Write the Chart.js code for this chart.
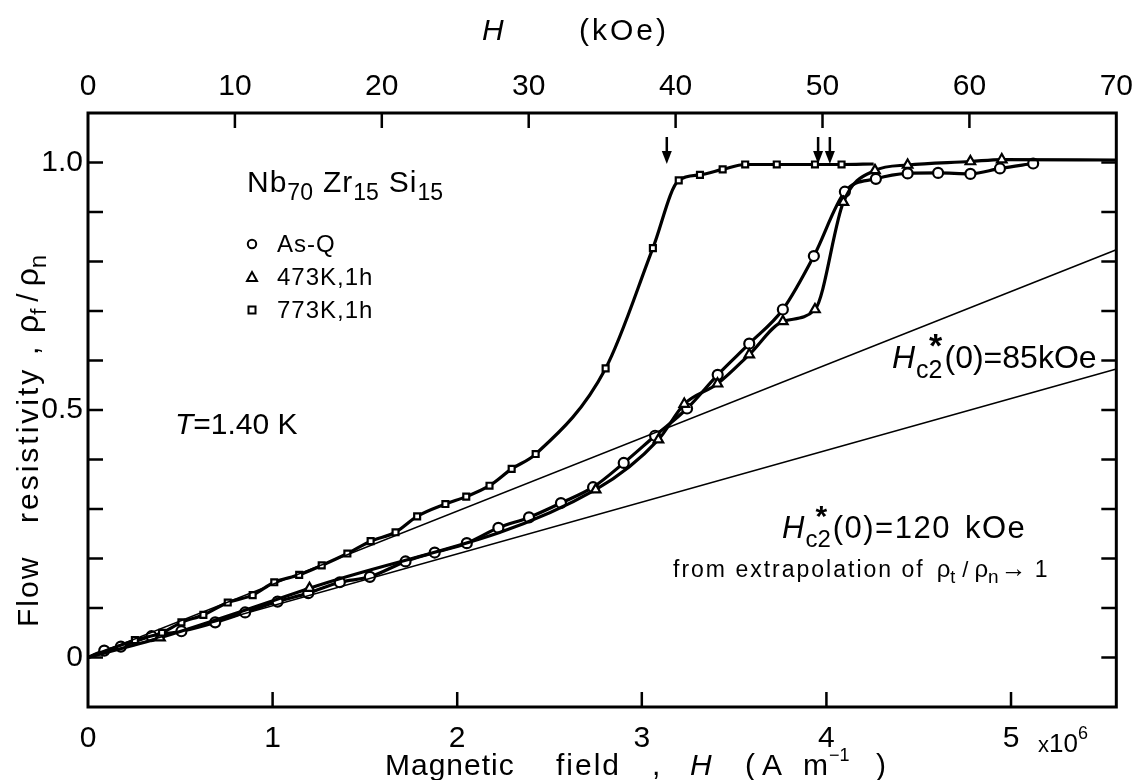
<!DOCTYPE html>
<html>
<head>
<meta charset="utf-8">
<script src="https://cdn.jsdelivr.net/npm/chart.js@4.4.1/dist/chart.umd.min.js"></script>
<style>
  html, body { margin: 0; padding: 0; background: #fff; }
  canvas { display: block; }
</style>
</head>
<body>
<canvas id="chart" width="1141" height="780"></canvas>
<script>
// Field H in units of 10^6 A/m, flow resistivity ratio rho_f / rho_n
const FONT = '"Liberation Sans", Arial, sans-serif';

// As-Q (circles); first point is the curve start, no marker
const asqX = [0, 0.088, 0.178, 0.344, 0.506, 0.689, 0.851, 1.027, 1.193, 1.364, 1.527, 1.72, 1.878, 2.052, 2.223, 2.389, 2.562, 2.736, 2.902, 3.072, 3.245, 3.411, 3.582, 3.764, 3.932, 4.100, 4.268, 4.440, 4.605, 4.780, 4.940, 5.120];
const asqY = [0, 0.014, 0.022, 0.043, 0.053, 0.071, 0.091, 0.113, 0.130, 0.152, 0.163, 0.194, 0.212, 0.231, 0.262, 0.283, 0.312, 0.344, 0.393, 0.448, 0.503, 0.571, 0.634, 0.703, 0.811, 0.941, 0.967, 0.978, 0.979, 0.977, 0.988, 0.998];

// 473K, 1h (triangles); first and last points carry no marker
const t473X = [0, 0.39, 1.20, 2.75, 3.09, 3.23, 3.41, 3.582, 3.764, 3.938, 4.092, 4.263, 4.440, 4.780, 4.950, 5.5704];
const t473Y = [0, 0.040, 0.140, 0.339, 0.440, 0.512, 0.553, 0.612, 0.679, 0.703, 0.920, 0.984, 0.995, 1.002, 1.006, 1.005];

// 773K, 1h (squares); first and last points carry no marker
const t773X = [0, 0.254, 0.401, 0.506, 0.625, 0.757, 0.892, 1.009, 1.144, 1.266, 1.405, 1.531, 1.666, 1.783, 1.936, 2.049, 2.175, 2.295, 2.425, 2.804, 3.060, 3.200, 3.315, 3.438, 3.560, 3.731, 3.938, 4.082, 4.256];
const t773Y = [0, 0.035, 0.050, 0.071, 0.086, 0.111, 0.126, 0.152, 0.167, 0.186, 0.210, 0.235, 0.253, 0.285, 0.310, 0.325, 0.347, 0.381, 0.411, 0.584, 0.827, 0.964, 0.975, 0.986, 0.996, 0.996, 0.996, 0.996, 0.997];

// extrapolation lines, Hc2*(0) = 85 kOe and 120 kOe
const line85X = [0, 5.5704];
const line85Y = [0, 0.8235];
const line120X = [0, 5.5704];
const line120Y = [0, 0.583];

// axis ticks
const xTicks = [1, 2, 3, 4, 5];
const kOeTicks = [10, 20, 30, 40, 50, 60];
const yTicks = [0, 0.1, 0.2, 0.3, 0.4, 0.5, 0.6, 0.7, 0.8, 0.9, 1.0];
const yLabels = { '0': '0', '0.5': '0.5', '1': '1.0' };
// arrows on top (kOe)
const arrowKOe = [39.4, 49.7, 50.5];

function pts(xs, ys) {
  return xs.map((x, i) => ({ x: x, y: ys[i] }));
}

// helper: draw text pieces one after another (sub/superscripts, italics, spacing)
function rich(ctx, x, y, parts) {
  parts.forEach(p => {
    ctx.font = (p.it ? 'italic ' : '') + (p.b ? 'bold ' : '') + p.s + 'px ' + FONT;
    ctx.letterSpacing = (p.ls || 0) + 'px';
    const xx = p.at !== undefined ? p.at : x + (p.dx || 0);
    ctx.fillText(p.t, xx, y + (p.dy || 0));
    if (p.adv !== false) x = xx + ctx.measureText(p.t).width;
  });
  ctx.letterSpacing = '0px';
}

const decor = {
  id: 'decor',
  afterDraw(chart) {
    const { ctx, chartArea: a, scales } = chart;
    ctx.save();
    ctx.strokeStyle = '#000';
    ctx.fillStyle = '#000';
    ctx.lineCap = 'butt';

    // frame
    ctx.lineWidth = 3;
    ctx.strokeRect(a.left, a.top, a.right - a.left, a.bottom - a.top);

    // inward ticks
    ctx.lineWidth = 2.5;
    ctx.beginPath();
    xTicks.forEach(v => {
      const p = scales.x.getPixelForValue(v);
      ctx.moveTo(p, a.bottom); ctx.lineTo(p, a.bottom - 15);
    });
    kOeTicks.forEach(v => {
      const p = scales.x2.getPixelForValue(v);
      ctx.moveTo(p, a.top); ctx.lineTo(p, a.top + 15);
    });
    yTicks.forEach(v => {
      const p = scales.y.getPixelForValue(v);
      ctx.moveTo(a.left, p); ctx.lineTo(a.left + 15, p);
      ctx.moveTo(a.right, p); ctx.lineTo(a.right - 15, p);
    });
    ctx.stroke();

    // arrows
    arrowKOe.forEach(k => {
      const p = scales.x2.getPixelForValue(k);
      ctx.lineWidth = 2.5;
      ctx.beginPath(); ctx.moveTo(p, 137); ctx.lineTo(p, 156); ctx.stroke();
      ctx.beginPath(); ctx.moveTo(p - 5, 151); ctx.lineTo(p + 5, 151); ctx.lineTo(p, 164); ctx.closePath(); ctx.fill();
    });

    ctx.textBaseline = 'alphabetic';
    ctx.textAlign = 'left';

    // top title
    rich(ctx, 0, 40, [{ t: 'H', s: 30, it: true, at: 482 }, { t: '(kOe)', s: 30, ls: 3, at: 579 }]);

    // bottom title
    rich(ctx, 0, 775, [
      { t: 'Magnetic', s: 30, ls: 1, at: 385 }, { t: 'field', s: 30, ls: 2, at: 556 }, { t: ',', s: 30, at: 652 },
      { t: 'H', s: 30, it: true, at: 690 }, { t: '(', s: 30, at: 745 }, { t: 'A', s: 30, at: 762 },
      { t: 'm', s: 30, at: 803 }, { t: '\u22121', s: 18, dy: -14, dx: 1 }, { t: ')', s: 30, at: 876 }
    ]);
    rich(ctx, 1038, 752, [{ t: 'x', s: 22 }, { t: '10', s: 26 }, { t: '6', s: 18, dy: -13 }]);

    // left title (rotated)
    ctx.save();
    ctx.translate(38, 627);
    ctx.rotate(-Math.PI / 2);
    rich(ctx, 0, 0, [
      { t: 'Flow', s: 30, ls: 2 }, { t: 'resistivity', s: 30, ls: 3, at: 104 }, { t: ',', s: 30, at: 272 },
      { t: '\u03c1', s: 32, at: 294 }, { t: 'f', s: 22, dy: 8 }, { t: '/', s: 30, dx: 7 },
      { t: '\u03c1', s: 32, dx: 7 }, { t: 'n', s: 24, dy: 8 }
    ]);
    ctx.restore();

    // sample label
    rich(ctx, 247, 192, [
      { t: 'Nb', s: 30, ls: 1 }, { t: '70', s: 23, dy: 8 }, { t: 'Zr', s: 30, ls: 1, dx: 10 },
      { t: '15', s: 23, dy: 8 }, { t: 'Si', s: 30, ls: 1, dx: 10 }, { t: '15', s: 23, dy: 8 }
    ]);

    // legend
    ctx.lineWidth = 2;
    ctx.fillStyle = '#fff';
    ctx.beginPath(); ctx.arc(252, 244, 4.2, 0, Math.PI * 2); ctx.fill(); ctx.stroke();
    ctx.beginPath(); ctx.moveTo(252, 272); ctx.lineTo(257, 281); ctx.lineTo(247, 281); ctx.closePath(); ctx.fill(); ctx.stroke();
    ctx.beginPath(); ctx.rect(248.5, 306.5, 7, 7); ctx.fill(); ctx.stroke();
    ctx.fillStyle = '#000';
    rich(ctx, 277, 252, [{ t: 'As-Q', s: 24, ls: 1 }]);
    rich(ctx, 277, 285, [{ t: '473K,1h', s: 24, ls: 1 }]);
    rich(ctx, 277, 318, [{ t: '773K,1h', s: 24, ls: 1 }]);

    // temperature
    rich(ctx, 175, 434, [{ t: 'T', s: 30, it: true }, { t: '=1.40 K', s: 30 }]);

    // Hc2 annotations
    rich(ctx, 892, 368, [
      { t: 'H', s: 32, it: true }, { t: '*', s: 34, b: true, dx: 14, dy: -11, adv: false },
      { t: 'c', s: 25, dy: 10, dx: 1 }, { t: '2', s: 25, dy: 10 }, { t: '(0)=85kOe', s: 32, dx: 2 }
    ]);
    rich(ctx, 782, 538, [
      { t: 'H', s: 31, it: true }, { t: '*', s: 30, b: true, dx: 11, dy: -12, adv: false },
      { t: 'c', s: 24, dy: 9, dx: 1 }, { t: '2', s: 24, dy: 9 }, { t: '(0)=120', s: 31, ls: 1.5, dx: 2 },
      { t: 'kOe', s: 31, ls: 1.5, dx: 14 }
    ]);
    rich(ctx, 673, 577, [
      { t: 'from extrapolation of', s: 23, ls: 2 }, { t: '\u03c1', s: 24, dx: 12 }, { t: 't', s: 18, dy: 6 },
      { t: '/', s: 22, dx: 7 }, { t: '\u03c1', s: 24, dx: 6 }, { t: 'n', s: 19, dy: 6 },
      { t: '\u2192', s: 26, dx: 2 }, { t: '1', s: 23, dx: 8 }
    ]);

    ctx.restore();
  }
};

const markerStyle = shape => ({
  pointStyle: shape,
  pointBackgroundColor: '#fff',
  pointBorderColor: '#000',
  pointBorderWidth: 2.2,
  pointHoverRadius: 0
});

new Chart(document.getElementById('chart'), {
  type: 'line',
  data: {
    datasets: [
      {
        label: '85 kOe', data: pts(line85X, line85Y), borderColor: '#000', borderWidth: 1.6,
        pointRadius: 0, tension: 0
      },
      {
        label: '120 kOe', data: pts(line120X, line120Y), borderColor: '#000', borderWidth: 1.6,
        pointRadius: 0, tension: 0
      },
      Object.assign({
        label: '773K,1h', data: pts(t773X, t773Y), borderColor: '#000', borderWidth: 3.2,
        cubicInterpolationMode: 'monotone',
        pointRadius: c => (c.dataIndex === 0 || c.dataIndex === t773X.length - 1) ? 0 : 4.2
      }, markerStyle('rect')),
      Object.assign({
        label: '473K,1h', data: pts(t473X, t473Y), borderColor: '#000', borderWidth: 3.2,
        cubicInterpolationMode: 'monotone',
        pointRadius: c => (c.dataIndex === 0 || c.dataIndex === t473X.length - 1) ? 0 : 5.5
      }, markerStyle('triangle')),
      Object.assign({
        label: 'As-Q', data: pts(asqX, asqY), borderColor: '#000', borderWidth: 3.2,
        cubicInterpolationMode: 'monotone',
        pointRadius: c => c.dataIndex === 0 ? 0 : 5
      }, markerStyle('circle'))
    ]
  },
  options: {
    responsive: false,
    animation: false,
    layout: { padding: 0 },
    plugins: {
      legend: { display: false },
      tooltip: { enabled: false }
    },
    scales: {
      x: {
        type: 'linear', position: 'bottom', min: 0, max: 5.5704,
        grid: { display: false, drawTicks: false }, border: { display: false },
        ticks: {
          stepSize: 1, includeBounds: false, autoSkip: false, maxRotation: 0, padding: 14,
          color: '#000', font: { family: FONT, size: 30 },
          callback: v => Number.isInteger(v) ? String(v) : ''
        },
        afterFit: s => { s.height = 73; }
      },
      x2: {
        type: 'linear', position: 'top', min: 0, max: 70,
        grid: { display: false, drawTicks: false }, border: { display: false },
        ticks: {
          stepSize: 10, autoSkip: false, maxRotation: 0, padding: 8,
          color: '#000', font: { family: FONT, size: 30 }
        },
        afterFit: s => { s.height = 113; }
      },
      y: {
        type: 'linear', position: 'left', min: -0.1, max: 1.1,
        grid: { display: false, drawTicks: false }, border: { display: false },
        ticks: {
          stepSize: 0.1, autoSkip: false, padding: 5,
          color: '#000', font: { family: FONT, size: 30 },
          callback: v => yLabels[String(Math.round(v * 10) / 10)] || ''
        },
        afterFit: s => { s.width = 88; }
      },
      y2: {
        type: 'linear', position: 'right', min: -0.1, max: 1.1,
        grid: { display: false, drawTicks: false }, border: { display: false },
        ticks: { display: false },
        afterFit: s => { s.width = 18; }
      }
    }
  },
  plugins: [decor]
});
</script>
</body>
</html>
